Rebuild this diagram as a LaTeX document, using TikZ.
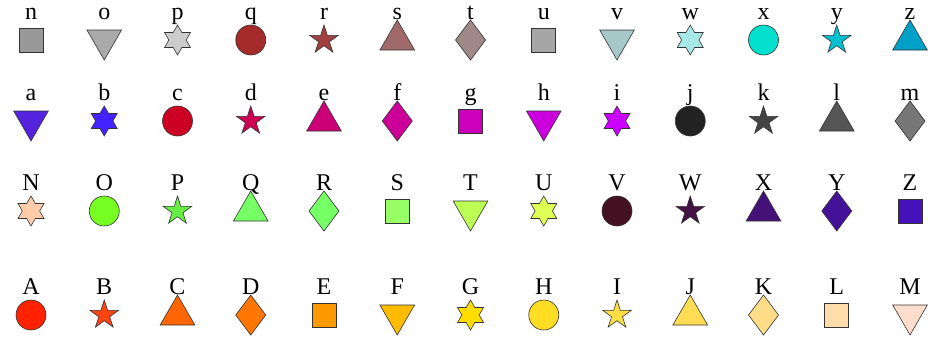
\documentclass[tikz,border=0pt]{standalone}
\usepackage{fontspec}
\setmainfont{Liberation Serif}
\usetikzlibrary{shapes.geometric}

\begin{document}
\begin{tikzpicture}[x=1pt,y=-1pt,
  mk/.style={draw=black!80,line width=0.6pt,inner sep=0pt,outer sep=0pt,fill=#1},
  sq/.style={rectangle,minimum size=24pt},
  ci/.style={circle,minimum size=30pt},
  tu/.style={regular polygon,regular polygon sides=3,minimum size=40pt},
  td/.style={regular polygon,regular polygon sides=3,minimum size=40pt,shape border rotate=180},
  sf/.style={star,star points=5,star point ratio=2.618,minimum size=30pt},
  sx/.style={star,star points=6,star point ratio=1.732,minimum size=30pt},
  dm/.style={diamond,minimum width=30pt,minimum height=40pt},
  lbl/.style={anchor=base,inner sep=0pt,font=\fontsize{24}{24}\selectfont},
]
  \useasboundingbox (0,0) rectangle (928,341);

  % row 1
  \foreach \l/\s/\h [count=\i from 0] in {n/sq/999999,o/td/AAAAAA,p/sx/CCCCCC,q/ci/A52A2A,r/sf/A04040,s/tu/A06A6A,t/dm/A08888,u/sq/A6A6A6,v/td/A6C8C8,w/sx/A8E8E8,x/ci/00E0CC,y/sf/00C0D0,z/tu/00A0C8}{
    \definecolor{mkfill}{HTML}{\h}
    \node[mk=mkfill,\s] (m\l) at (31+73.25*\i,40) {};
    \node[lbl] (t\l) at (31+73.25*\i,19) {\l};
  }
  % row 2
  \foreach \l/\s/\h [count=\i from 0] in {a/td/5522DD,b/sx/4422FF,c/ci/CC0022,d/sf/CC0055,e/tu/CC0077,f/dm/CC0099,g/sq/CC00BB,h/td/CC00DD,i/sx/CC00FF,j/ci/222222,k/sf/444444,l/tu/555555,m/dm/777777}{
    \definecolor{mkfill}{HTML}{\h}
    \node[mk=mkfill,\s] (m\l) at (31+73.25*\i,121) {};
    \node[lbl] (t\l) at (31+73.25*\i,100) {\l};
  }
  % row 3
  \foreach \l/\s/\h [count=\i from 0] in {N/sx/FFCCAA,O/ci/77FF22,P/sf/66EE44,Q/tu/77FF66,R/dm/77FF66,S/sq/99FF66,T/td/BBFF55,U/sx/DDFF55,V/ci/441122,W/sf/441144,X/tu/441177,Y/dm/441199,Z/sq/4411BB}{
    \definecolor{mkfill}{HTML}{\h}
    \node[mk=mkfill,\s] (m\l) at (31+73.25*\i,211) {};
    \node[lbl] (t\l) at (31+73.25*\i,190) {\l};
  }
  % row 4
  \foreach \l/\s/\h [count=\i from 0] in {A/ci/FF2200,B/sf/FF4411,C/tu/FF6600,D/dm/FF7700,E/sq/FF9900,F/td/FFBB00,G/sx/FFDD00,H/ci/FFDD22,I/sf/FFDD44,J/tu/FFDD55,K/dm/FFDD88,L/sq/FFDDAA,M/td/FFDDCC}{
    \definecolor{mkfill}{HTML}{\h}
    \node[mk=mkfill,\s] (m\l) at (31+73.25*\i,315) {};
    \node[lbl] (t\l) at (31+73.25*\i,294) {\l};
  }
\end{tikzpicture}
\end{document}
